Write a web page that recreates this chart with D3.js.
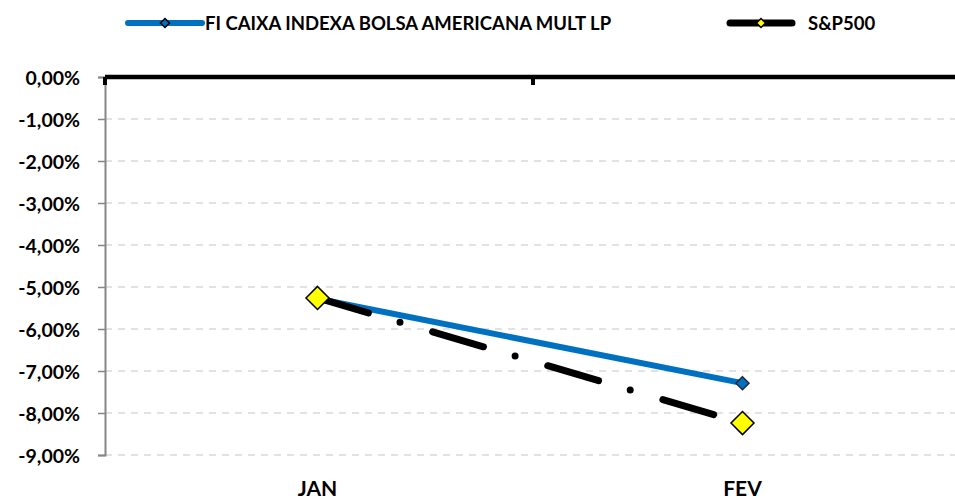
<!DOCTYPE html>
<html>
<head>
<meta charset="utf-8">
<script src="https://cdn.jsdelivr.net/npm/d3@7"></script>
<style>
  body { margin: 0; background: #fff; }
  text { font-family: Lato, "Liberation Sans", sans-serif; font-weight: bold; fill: #000; }
</style>
</head>
<body>
<div id="chart"></div>
<script>
var categories = ["JAN", "FEV"];
var fundValues = [-5.28, -7.29];
var spValues = [-5.26, -8.24];
var yTicks = [0, -1, -2, -3, -4, -5, -6, -7, -8, -9];
var seriesNames = ["FI CAIXA INDEXA BOLSA AMERICANA MULT LP", "S&P500"];

var width = 955, height = 500;
var margin = {top: 77, right: 0, bottom: 45, left: 105};

var svg = d3.select("#chart").append("svg")
    .attr("width", width)
    .attr("height", height);

var x = d3.scaleBand().domain(categories).range([margin.left, width - margin.right]);
var y = d3.scaleLinear().domain([-9, 0]).range([455, margin.top]);

var fmt = function (v) { return d3.format(".2f")(v).replace(".", ",").replace("−", "-") + "%"; };

// gridlines
svg.append("g").selectAll("line")
    .data(yTicks.filter(function (d) { return d !== 0; }))
    .enter().append("line")
    .attr("x1", margin.left).attr("x2", width)
    .attr("y1", function (d) { return y(d); }).attr("y2", function (d) { return y(d); })
    .attr("stroke", "#d9d9d9").attr("stroke-width", 1.3)
    .attr("stroke-dasharray", "7 6");

// y axis
var yAxis = d3.axisLeft(y).tickValues(yTicks).tickSize(7).tickPadding(18).tickFormat(fmt);
var gy = svg.append("g").attr("transform", "translate(" + margin.left + ",0)").call(yAxis);
gy.select(".domain").attr("stroke", "#868686").attr("stroke-width", 2);
gy.selectAll(".tick line").attr("stroke", "#868686").attr("stroke-width", 1.5);
gy.selectAll(".tick text").style("font-size", "19.5px").attr("dy", "0.36em");

// x axis at zero
svg.append("g").selectAll("line")
    .data([margin.left, (x("JAN") + x("FEV") + x.bandwidth()) / 2 + 3])
    .enter().append("line")
    .attr("x1", function (d) { return d; }).attr("x2", function (d) { return d; })
    .attr("y1", y(0)).attr("y2", y(0) + 8)
    .attr("stroke", "#000").attr("stroke-width", 4);
svg.append("line")
    .attr("x1", margin.left).attr("x2", width)
    .attr("y1", y(0)).attr("y2", y(0))
    .attr("stroke", "#000").attr("stroke-width", 4.5);

svg.append("g").selectAll("text")
    .data(categories)
    .enter().append("text")
    .attr("x", function (d) { return x(d) + x.bandwidth() / 2; })
    .attr("y", 496)
    .attr("text-anchor", "middle")
    .style("font-size", "21px")
    .text(function (d) { return d; });

var line = d3.line()
    .x(function (d, i) { return x(categories[i]) + x.bandwidth() / 2; })
    .y(function (d) { return y(d); });

var diamond = function (s) { return "M0," + (-s) + "L" + s + ",0L0," + s + "L" + (-s) + ",0Z"; };

// fund series
svg.append("path").datum(fundValues)
    .attr("d", line).attr("fill", "none")
    .attr("stroke", "#0070c0").attr("stroke-width", 6);
svg.append("g").selectAll("path")
    .data(fundValues).enter().append("path")
    .attr("d", diamond(6.5))
    .attr("transform", function (d, i) { return "translate(" + (x(categories[i]) + x.bandwidth() / 2) + "," + y(d) + ")"; })
    .attr("fill", "#0070c0").attr("stroke", "#1f2a44").attr("stroke-width", 1.5);

// S&P series
svg.append("path").datum(spValues)
    .attr("d", line).attr("fill", "none")
    .attr("stroke", "#000").attr("stroke-width", 7)
    .attr("stroke-linecap", "round")
    .attr("stroke-dasharray", "53 33 0 34");
svg.append("g").selectAll("path")
    .data(spValues).enter().append("path")
    .attr("d", diamond(11.5))
    .attr("transform", function (d, i) { return "translate(" + (x(categories[i]) + x.bandwidth() / 2) + "," + y(d) + ")"; })
    .attr("fill", "#ffff00").attr("stroke", "#000").attr("stroke-width", 1.5);

// legend
var legend = [
    {name: seriesNames[0], x1: 128, x2: 202, color: "#0070c0", w: 6, fill: "#0070c0", mk: 4.5, text: 205},
    {name: seriesNames[1], x1: 730, x2: 792, color: "#000", w: 7, fill: "#ffff00", mk: 4.5, text: 808}
];
var lg = svg.append("g").selectAll("g").data(legend).enter().append("g");
lg.append("line")
    .attr("x1", function (d) { return d.x1; }).attr("x2", function (d) { return d.x2; })
    .attr("y1", 23).attr("y2", 23)
    .attr("stroke", function (d) { return d.color; })
    .attr("stroke-width", function (d) { return d.w; })
    .attr("stroke-linecap", "round");
lg.append("path")
    .attr("d", function (d) { return diamond(d.mk); })
    .attr("transform", function (d) { return "translate(" + ((d.x1 + d.x2) / 2 + 0) + ",23)"; })
    .attr("fill", function (d) { return d.fill; })
    .attr("stroke", "#000").attr("stroke-width", 1.5);
lg.append("text")
    .attr("x", function (d) { return d.text; })
    .attr("y", 29.5)
    .style("font-size", "18.5px")
    .text(function (d) { return d.name; });
</script>
</body>
</html>
